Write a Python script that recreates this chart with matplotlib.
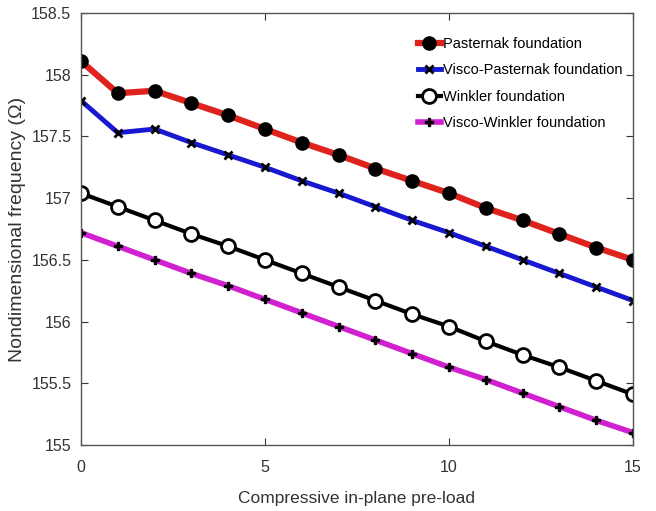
import matplotlib
matplotlib.use("Agg")
import matplotlib.pyplot as plt

plt.rcParams['font.family'] = ['Liberation Sans', 'DejaVu Sans']

x = list(range(16))
pasternak = [158.11, 157.85, 157.87, 157.77, 157.67, 157.56, 157.45, 157.35,
             157.24, 157.14, 157.04, 156.92, 156.82, 156.71, 156.60, 156.50]
visco_pasternak = [157.79, 157.53, 157.56, 157.45, 157.35, 157.25, 157.14, 157.04,
                   156.93, 156.82, 156.72, 156.61, 156.50, 156.39, 156.28, 156.17]
winkler = [157.04, 156.93, 156.82, 156.71, 156.61, 156.50, 156.39, 156.28,
           156.17, 156.06, 155.96, 155.84, 155.73, 155.63, 155.52, 155.41]
visco_winkler = [156.72, 156.61, 156.50, 156.39, 156.29, 156.18, 156.07, 155.96,
                 155.85, 155.74, 155.63, 155.53, 155.42, 155.31, 155.20, 155.10]
labels = ["Pasternak foundation", "Visco-Pasternak foundation",
          "Winkler foundation", "Visco-Winkler foundation"]
xticks = [0, 5, 10, 15]
yticks = [155, 155.5, 156, 156.5, 157, 157.5, 158, 158.5]
ytick_labels = ['155', '155.5', '156', '156.5', '157', '157.5', '158', '158.5']

fig = plt.figure(figsize=(6.56, 5.11), dpi=100)
ax = fig.add_axes([81/656, 1-445/511, (633-81)/656, (445-13)/511])

ax.plot(x, pasternak, color='#e0221c', lw=4.5, marker='o', ms=9.5,
        mfc='black', mec='black', label=labels[0])
ax.plot(x, visco_pasternak, color='#1818d0', lw=3.5, marker='x', ms=6, mew=2,
        mec='black', label=labels[1])
ax.plot(x, winkler, color='black', lw=3, marker='o', ms=10, mfc='white',
        mec='black', mew=2, label=labels[2])
ax.plot(x, visco_winkler, color='#d020d0', lw=4, marker='P', ms=6,
        mfc='black', mec='black', label=labels[3])

ax.set_xlim(0, 15)
ax.set_ylim(155, 158.5)
ax.set_xticks(xticks)
ax.set_yticks(yticks)
ax.set_yticklabels(ytick_labels)
ax.tick_params(direction='in', top=True, right=True, labelsize=11.5, colors='#333333',
               length=5)
ax.tick_params(axis='x', pad=11)
ax.tick_params(axis='y', pad=7)
for s in ax.spines.values():
    s.set_color('#555555')
    s.set_linewidth(1)
ax.set_xlabel('Compressive in-plane pre-load', fontsize=12.5, color='#333333', labelpad=11)
ax.set_ylabel('Nondimensional frequency (Ω)', fontsize=14, color='#333333', va='center')
ax.yaxis.set_label_coords(-(81-18)/552, 0.5)

leg = ax.legend(loc='upper right', bbox_to_anchor=(1.0, 0.968), frameon=False,
                fontsize=10.5, handlelength=1.6, handletextpad=0.15, labelspacing=0.85,
                borderaxespad=0.3)

fig.savefig('out.png', dpi=100)
